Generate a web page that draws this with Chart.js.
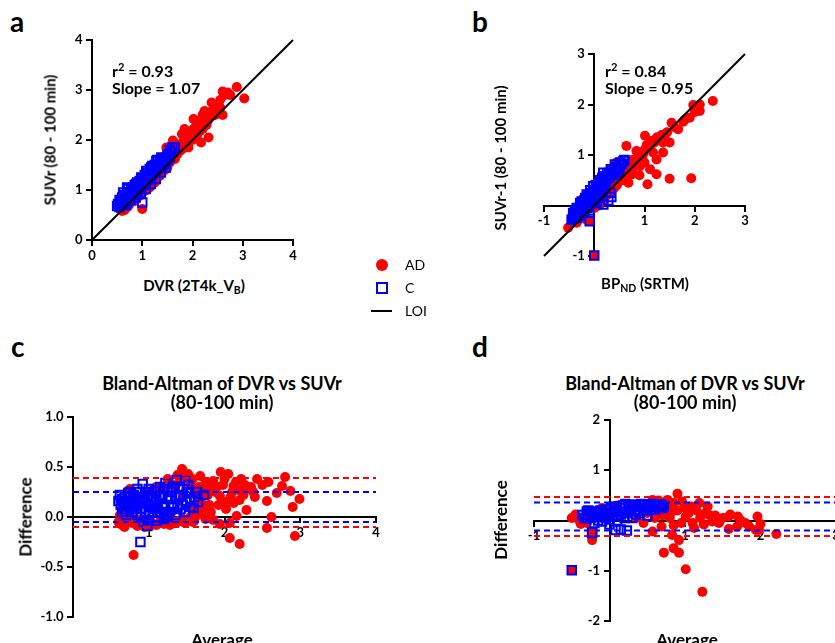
<!DOCTYPE html>
<html>
<head>
<meta charset="utf-8">
<script src="https://cdn.jsdelivr.net/npm/chart.js@4.4.1/dist/chart.umd.min.js"></script>
<style>
  body { margin: 0; width: 835px; height: 643px; overflow: hidden; background: #fff; position: relative; font-family: Lato, sans-serif; color: #000; }
  .box { position: absolute; }
  .t { position: absolute; white-space: nowrap; line-height: 1; font-weight: bold; }
  .c { transform: translate(-50%, -50%); }
  .r { transform: translate(-50%, -50%) rotate(-90deg); }
  .lg { position: absolute; white-space: nowrap; line-height: 1; font-size: 14px; transform: translateY(-50%); }
  sub { font-size: 70%; vertical-align: -0.25em; }
  sup { font-size: 70%; vertical-align: 0.55em; }
</style>
</head>
<body>

<div class="t" style="left:10px;top:7px;font-size:28px">a</div>
<div class="t" style="left:472px;top:7px;font-size:28px">b</div>
<div class="t" style="left:11px;top:332px;font-size:28px">c</div>
<div class="t" style="left:472px;top:332px;font-size:28px">d</div>

<div class="box" style="left:0;top:0;width:320px;height:260px"><canvas id="chartA"></canvas></div>
<div class="box" style="left:470px;top:0;width:300px;height:280px"><canvas id="chartB"></canvas></div>
<div class="box" style="left:0;top:400px;width:400px;height:243px"><canvas id="chartC"></canvas></div>
<div class="box" style="left:420px;top:400px;width:450px;height:243px"><canvas id="chartD"></canvas></div>

<div class="t" style="left:112px;top:61px;font-size:16px">r<sup>2</sup> = 0.93</div>
<div class="t" style="left:112px;top:80px;font-size:16px">Slope = 1.07</div>
<div class="t r" style="left:50px;top:140px;font-size:15px">SUVr (80 - 100 min)</div>
<div class="t c" style="left:194px;top:287px;font-size:15px">DVR (2T4k_V<sub>B</sub>)</div>

<div class="t" style="left:605px;top:61px;font-size:16px">r<sup>2</sup> = 0.84</div>
<div class="t" style="left:605px;top:80px;font-size:16px">Slope = 0.95</div>
<div class="t r" style="left:500px;top:158px;font-size:15px">SUVr-1 (80 - 100 min)</div>
<div class="t c" style="left:645px;top:285px;font-size:15px">BP<sub>ND</sub> (SRTM)</div>

<div style="position:absolute;left:376px;top:259px;width:12px;height:12px;border-radius:50%;background:#f00"></div>
<div class="lg" style="left:405px;top:265px">AD</div>
<div style="position:absolute;left:376px;top:282px;width:8px;height:8px;border:2px solid #00f"></div>
<div class="lg" style="left:405px;top:288px">C</div>
<div style="position:absolute;left:371px;top:310px;width:21px;height:2px;background:#000"></div>
<div class="lg" style="left:405px;top:311px">LOI</div>

<div class="t c" style="left:222px;top:383px;font-size:18px">Bland-Altman of DVR vs SUVr</div>
<div class="t c" style="left:222px;top:402px;font-size:18px">(80-100 min)</div>
<div class="t r" style="left:25px;top:517px;font-size:17px">Difference</div>
<div class="t c" style="left:222px;top:639px;font-size:17px">Average</div>

<div class="t c" style="left:685px;top:383px;font-size:18px">Bland-Altman of DVR vs SUVr</div>
<div class="t c" style="left:685px;top:402px;font-size:18px">(80-100 min)</div>
<div class="t r" style="left:500px;top:520px;font-size:17px">Difference</div>
<div class="t c" style="left:687px;top:639px;font-size:17px">Average</div>

<script>
// ---- panel a : SUVr vs DVR ----
const adA = [[0.55,0.62],[0.6,0.58],[0.65,0.6],[0.7,0.66],[0.75,0.72],[0.62,0.7],[0.8,0.8],[0.85,0.78],[0.9,0.88],[0.95,0.92],
  [1.0,0.62],[0.98,1.0],[1.05,1.05],[1.1,1.08],[1.15,1.1],[1.2,1.18],[1.25,1.22],[1.3,1.3],[1.35,1.35],[1.4,1.38],
  [1.45,1.45],[1.5,1.52],[1.5,1.6],[1.55,1.65],[1.6,1.62],[1.65,1.75],[1.7,1.8],[1.75,1.78],[1.8,1.95],[1.85,1.9],
  [1.9,2.05],[1.95,2.0],[2.0,2.1],[2.0,2.2],[2.05,2.25],[2.1,2.3],[2.15,2.18],[2.2,2.35],[2.25,2.42],[2.3,2.45],
  [2.1,2.38],[1.95,2.15],[1.85,2.05],[1.78,1.92],[1.7,1.72],[1.62,1.68],[2.35,2.55],[2.4,2.6],[2.45,2.5],[2.38,2.75],
  [2.5,2.7],[2.55,2.65],[2.6,2.5],[2.6,2.97],[2.65,2.9],[2.7,2.95],[2.75,2.9],[2.88,3.06],[3.03,2.83],[2.32,2.05],
  [2.17,1.95],[2.24,2.58],[2.02,2.42],[1.84,2.22],[1.79,2.12],[1.61,1.99],[1.48,1.85],[1.45,1.58],[1.25,1.42],[1.1,1.25],
  [0.9,1.0],[0.75,0.85],[1.3,1.5],[1.4,1.62],[1.2,1.35],[1.0,1.12],[0.8,0.92],[0.7,0.78],[1.55,1.75],[1.68,1.9],
  [2.2,2.5],[2.28,2.3],[1.92,1.85],[2.08,2.05],[1.55,1.55],[1.6,1.7],[1.65,1.62],[1.7,1.85],[1.75,1.88],[1.8,1.82],
  [1.85,1.98],[1.9,1.92],[1.95,2.08],[2.0,2.0],[2.05,2.15],[2.1,2.12],[2.15,2.28],[2.2,2.22],[2.25,2.3],[2.3,2.38],
  [2.35,2.45],[2.45,2.62],[2.5,2.58],[2.55,2.8],[1.05,0.98],[1.15,1.05],[1.25,1.15],[1.35,1.28],[1.45,1.4],[0.85,0.82],
  [0.95,0.88],[0.72,0.68],[0.58,0.65],[1.5,1.45]];
const cA = [[0.5,0.68],[0.52,0.72],[0.55,0.66],[0.58,0.78],[0.6,0.85],[0.62,0.72],[0.65,0.9],[0.68,0.82],[0.7,1.05],[0.72,0.95],
  [0.75,0.88],[0.78,1.0],[0.8,0.92],[0.82,1.05],[0.85,1.1],[0.88,0.98],[0.9,1.15],[0.92,1.05],[0.95,1.18],[0.98,1.1],
  [1.0,0.75],[1.0,1.22],[1.02,1.15],[1.05,1.3],[1.08,1.2],[1.1,1.35],[1.12,1.28],[1.15,1.42],[1.18,1.32],[1.2,1.48],
  [1.22,1.4],[1.25,1.5],[1.28,1.45],[1.3,1.6],[1.32,1.52],[1.35,1.58],[1.38,1.5],[1.4,1.62],[1.42,1.55],[1.45,1.6],
  [1.5,1.7],[1.55,1.8],[1.6,1.85],[1.65,1.85],[0.9,0.95],[0.7,0.75],[1.15,1.25],[0.85,0.9],[0.6,0.7],[1.05,1.1],
  [0.55,0.8],[0.6,0.78],[0.65,0.75],[0.7,0.88],[0.75,0.95],[0.8,1.0],[0.85,0.98],[0.9,1.05],[0.95,1.05],[1.0,1.1],
  [1.05,1.18],[1.1,1.2],[1.15,1.32],[1.2,1.3],[1.25,1.38],[1.3,1.42],[1.35,1.45],[1.4,1.5],[1.45,1.52],[1.5,1.6],
  [1.55,1.65],[0.62,0.95],[0.72,1.02],[0.88,1.12],[0.98,1.25],[1.08,1.38],[1.18,1.45],[1.28,1.58],[1.38,1.65],[1.48,1.65],
  [1.58,1.75],[0.67,0.7],[0.77,0.8],[0.87,0.85],[0.97,0.95],[1.07,1.02],[1.17,1.12],[1.27,1.22],[1.37,1.35],[1.47,1.45]];
const loiA = [[0,0],[4,4]];

// ---- panel b : SUVr-1 vs BPnd ----
const adB = [[-0.52,-0.44],[-0.35,-0.34],[-0.15,-0.28],[-0.4,-0.3],[-0.3,-0.2],[-0.2,-0.05],[-0.1,0.05],[0.0,0.15],[0.05,0.3],[0.1,0.25],
  [0.15,0.4],[0.2,0.3],[0.25,0.45],[0.3,0.5],[0.35,0.55],[0.4,0.5],[0.45,0.62],[0.5,0.7],[0.55,0.6],[0.6,0.72],
  [0.65,0.8],[0.7,0.75],[0.75,0.9],[0.8,0.85],[0.85,0.95],[0.9,1.05],[0.95,0.95],[1.0,1.1],[1.05,1.2],[1.1,1.15],
  [1.15,1.28],[1.2,1.25],[1.25,1.35],[1.3,1.3],[1.35,1.4],[1.4,1.35],[1.45,1.45],[2.36,2.07],[2.1,2.0],[1.97,1.99],
  [2.1,1.87],[1.9,1.74],[1.77,1.66],[1.54,1.64],[1.67,1.51],[1.34,1.38],[1.24,1.31],[1.01,1.38],[0.64,1.18],[1.04,1.18],
  [1.17,1.05],[0.97,1.01],[0.84,0.91],[1.11,0.72],[1.24,0.62],[1.5,0.53],[1.93,0.54],[1.06,0.42],[0.76,0.62],[0.68,0.45],
  [0.48,0.65],[0.44,0.85],[0.71,0.78],[1.24,0.91],[1.37,1.05],[1.5,1.25],[1.37,1.25],[0.91,0.78],[0.54,0.78],[0.84,1.08],
  [1.6,1.55],[1.8,1.7],[2.0,1.85],[0.3,0.25],[0.2,0.1],[0.1,0.0],[0.6,0.5],[0.9,0.6],[1.0,0.85],[-0.45,-0.35],
  [-0.25,-0.25],[0.0,-0.05],[0.15,0.1],[0.25,0.2],[0.35,0.3],[0.45,0.4],[0.55,0.5],[0.65,0.62],[0.75,0.7],[0.4,0.35],
  [0.5,0.55],[0.6,0.6],[0.7,0.65]];
const cB = [[0.58,0.88],[0.41,0.81],[0.18,0.65],[0.08,0.45],[-0.15,0.22],[-0.28,0.05],[-0.42,-0.25],[-0.19,-0.21],[-0.35,-0.15],[0.34,0.17],
  [0.18,0.02],[-0.02,0.38],[0.15,0.32],[0.25,0.52],[0.44,0.65],[-0.09,0.12],[-0.4,-0.2],[-0.38,-0.1],[-0.3,-0.05],[-0.25,0.0],
  [-0.2,0.1],[-0.15,0.05],[-0.1,0.2],[-0.05,0.25],[0.0,0.3],[0.05,0.35],[0.1,0.4],[0.12,0.5],[0.2,0.45],[0.22,0.55],
  [0.28,0.6],[0.3,0.65],[0.35,0.7],[0.38,0.62],[0.45,0.75],[0.5,0.8],[0.52,0.85],[-0.3,-0.15],[-0.22,-0.08],[-0.12,0.0],
  [0.02,0.1],[0.28,0.1],[0.32,0.25],[0.1,0.15],[-0.05,0.05],[-0.35,-0.25],[0.6,0.9],[-0.45,-0.28],[-0.42,-0.15],[-0.38,-0.22],
  [-0.35,-0.05],[-0.32,-0.12],[-0.28,-0.1],[-0.25,0.08],[-0.22,0.02],[-0.18,0.15],[-0.15,-0.05],[-0.12,0.18],[-0.08,0.3],[-0.05,0.15],
  [0.0,0.22],[0.03,0.4],[0.06,0.2],[0.1,0.3],[0.13,0.45],[0.16,0.55],[0.2,0.38],[0.23,0.48],[0.26,0.62],[0.3,0.55],
  [0.33,0.72],[0.36,0.6],[0.4,0.7],[0.42,0.76],[0.47,0.7],[0.5,0.72],[0.55,0.82],[0.2,0.58],[0.05,0.05],[-0.1,-0.1],
  [-0.28,-0.2]];
const oddB = [[0,-0.99],[-0.09,-0.31]];
const loiB = [[-1,-1],[3,3]];

// ---- panel c : Bland-Altman DVR vs SUVr ----
const adC = [[0.6,-0.05],[0.65,-0.08],[0.68,-0.1],[0.72,-0.04],[0.75,0.02],[0.8,-0.38],[0.85,-0.09],[0.9,-0.06],[0.95,-0.1],[1.0,-0.05],
  [1.05,-0.07],[1.1,-0.08],[1.15,-0.04],[1.2,-0.07],[1.25,-0.05],[1.3,-0.03],[1.35,-0.06],[1.4,-0.04],[1.45,-0.02],[1.5,-0.03],
  [1.55,0.0],[1.6,-0.04],[1.65,0.02],[1.7,0.05],[1.75,-0.02],[0.7,0.1],[0.8,0.2],[0.9,0.15],[1.0,0.25],[1.1,0.3],
  [1.2,0.28],[1.3,0.32],[1.4,0.35],[1.25,0.38],[1.35,0.3],[1.44,0.48],[1.5,0.38],[1.55,0.32],[1.6,0.28],[1.68,0.41],
  [1.72,0.27],[1.75,0.35],[1.8,0.12],[1.85,0.36],[1.85,-0.03],[1.9,0.3],[1.94,0.21],[1.95,0.45],[2.0,0.38],[2.05,0.43],
  [2.07,-0.06],[1.94,-0.07],[2.07,-0.21],[2.1,0.25],[2.12,0.31],[2.12,0.14],[2.16,0.01],[2.2,0.17],[2.2,-0.27],[2.25,0.22],
  [2.27,0.32],[2.29,0.07],[2.3,0.28],[2.38,0.25],[2.43,0.38],[2.5,0.32],[2.56,0.16],[2.56,-0.11],[2.58,0.35],[2.62,0.0],
  [2.69,0.24],[2.76,0.31],[2.8,0.4],[2.87,0.26],[2.9,0.1],[2.93,-0.19],[2.99,0.18],[1.65,0.15],[1.7,0.2],[1.78,0.22],
  [1.6,0.1],[2.0,0.15],[2.15,0.35],[0.75,0.28],[1.05,0.12],[1.45,0.2],[1.3,0.05],[0.62,0.02],[0.65,0.12],[0.7,-0.02],
  [0.78,-0.06],[0.88,-0.03],[1.02,-0.09],[1.18,-0.06],[1.28,-0.08],[1.38,-0.05],[1.48,-0.06],[1.58,-0.05],[1.62,0.22],[1.66,0.3],
  [1.72,0.12],[1.8,0.3],[1.82,0.05],[1.88,0.25],[1.92,0.12],[1.98,0.32],[2.02,0.08],[2.08,0.2],[2.18,0.27],[2.22,0.38],
  [2.35,0.3],[2.4,0.2],[1.46,0.4],[1.52,0.43],[1.38,0.42],[1.58,0.38],[1.74,0.1]];
const cC = [[0.6,0.16],[0.63,0.12],[0.65,0.18],[0.68,0.08],[0.7,0.14],[0.73,0.24],[0.75,0.2],[0.78,0.05],[0.8,0.22],[0.82,0.12],
  [0.85,0.02],[0.88,0.18],[0.89,-0.25],[0.9,0.08],[0.92,0.33],[0.95,0.25],[0.98,-0.09],[1.0,0.12],[1.02,0.2],[1.05,0.05],
  [1.08,0.26],[1.1,0.15],[1.12,0.0],[1.15,0.22],[1.18,0.1],[1.2,0.28],[1.22,0.34],[1.25,0.18],[1.28,0.05],[1.3,0.25],
  [1.33,0.12],[1.37,0.37],[1.4,0.2],[1.42,0.08],[1.45,0.28],[1.48,0.36],[1.5,0.15],[1.55,0.1],[1.59,0.09],[1.64,0.25],
  [1.73,0.22],[1.0,0.02],[0.85,0.28],[1.15,0.3],[0.95,0.15],[1.25,0.0],[1.35,0.02],[0.75,0.1],[0.62,0.22],[0.65,0.05],
  [0.68,0.2],[0.7,0.02],[0.72,0.12],[0.75,0.25],[0.78,0.15],[0.8,0.08],[0.82,0.2],[0.85,0.12],[0.88,0.25],[0.9,0.0],
  [0.92,0.15],[0.95,0.05],[0.98,0.22],[1.0,0.28],[1.02,0.1],[1.05,0.18],[1.08,0.08],[1.1,0.25],[1.12,0.12],[1.15,0.05],
  [1.18,0.2],[1.2,0.12],[1.22,0.02],[1.25,0.28],[1.28,0.18],[1.3,0.1],[1.32,0.3],[1.35,0.2],[1.38,0.1],[1.4,0.3],
  [1.42,0.22],[1.45,0.12],[1.48,0.05],[1.5,0.25],[1.52,0.32],[1.55,0.18],[1.6,0.2],[1.65,0.15],[1.0,-0.03],[1.1,-0.04],
  [1.2,-0.02],[0.93,-0.05]];
const limitsAdC = [0.39, -0.10];   // red dashed limits of agreement
const limitsCC = [0.25, -0.05];    // blue dashed limits
const rangeC = [0, 4];

// ---- panel d : Bland-Altman BPnd vs SUVr-1 ----
const adD = [[-0.5,0.05],[-0.38,-0.07],[-0.23,-0.39],[-0.3,0.1],[-0.2,0.05],[-0.1,0.12],[0.0,0.1],[0.1,0.15],[0.2,0.2],[0.3,0.22],
  [0.4,0.25],[0.5,0.3],[0.55,0.35],[0.6,0.28],[0.65,0.4],[0.7,0.3],[0.75,0.25],[0.9,0.53],[0.96,0.38],[1.19,0.35],
  [1.08,0.28],[1.27,0.15],[1.36,-0.02],[1.58,0.08],[1.74,0.0],[1.96,0.08],[2.0,-0.07],[2.21,-0.27],[1.94,-0.19],[1.58,-0.17],
  [0.72,-0.64],[0.85,-0.55],[0.92,-0.64],[0.92,-0.39],[0.83,-0.29],[1.01,-0.97],[1.23,-1.42],[1.12,-0.15],[0.69,-0.12],[0.57,-0.22],
  [0.77,0.41],[0.57,0.41],[0.83,0.18],[1.01,0.08],[1.32,0.11],[1.45,-0.05],[1.69,-0.12],[1.98,-0.19],[1.85,-0.12],[0.8,0.05],
  [0.9,0.2],[1.0,0.25],[1.05,0.15],[1.15,0.2],[1.2,0.05],[1.3,0.28],[1.4,0.1],[1.5,0.05],[1.6,0.12],[1.7,0.08],
  [1.8,-0.05],[0.85,-0.1],[0.95,-0.05],[0.7,0.1],[0.6,0.15],[0.45,-0.05],[0.35,0.05],[1.1,-0.05],[1.25,-0.08],[0.3,0.3],
  [0.1,0.3],[-0.1,0.25],[-0.45,0.12],[-0.4,0.0],[0.65,0.2],[0.7,0.35],[0.8,0.3],[0.75,0.12],[0.85,0.35],[0.6,0.05],
  [0.5,0.15],[-0.3,-0.05]];
const cD = [[-0.36,0.11],[-0.3,0.05],[-0.25,0.15],[-0.2,0.08],[-0.15,0.0],[-0.1,0.12],[-0.05,0.05],[0.0,0.15],[0.05,0.1],[0.1,0.2],
  [0.15,0.12],[0.2,0.25],[0.21,0.33],[0.25,0.18],[0.3,0.28],[0.35,0.2],[0.4,0.3],[0.45,0.25],[0.5,0.32],[0.55,0.28],
  [0.57,0.33],[0.6,0.22],[0.65,0.3],[0.72,0.28],[-0.23,-0.25],[0.08,-0.19],[0.23,-0.2],[0.15,-0.18],[-0.2,-0.05],[0.0,-0.08],
  [0.1,0.0],[0.3,0.05],[-0.3,0.18],[0.4,0.15],[0.5,0.1],[-0.33,0.05],[-0.3,0.12],[-0.28,0.2],[-0.25,0.05],[-0.22,0.12],
  [-0.18,0.18],[-0.15,0.1],[-0.12,0.2],[-0.08,0.15],[-0.05,0.22],[-0.02,0.1],[0.02,0.25],[0.05,0.18],[0.08,0.28],[0.12,0.1],
  [0.15,0.25],[0.18,0.3],[0.22,0.15],[0.25,0.3],[0.28,0.2],[0.32,0.32],[0.35,0.28],[0.38,0.22],[0.42,0.33],[0.45,0.3],
  [0.48,0.2],[0.52,0.3],[0.55,0.22],[0.6,0.32],[0.62,0.28],[0.68,0.32],[0.7,0.25],[0.0,0.02],[0.2,0.05],[0.35,0.12],
  [-0.1,-0.02]];
const oddD = [[-0.5,-0.99],[-0.23,-0.24]];
const limitsAdD = [0.47, -0.31];
const limitsCD = [0.36, -0.20];
const rangeD = [-1, 3];

const RED = '#ff0000';
const BLUE = '#0000ff';

function redSet(pts) {
    return { data: pts, pointStyle: 'circle', pointRadius: 5, backgroundColor: RED, borderWidth: 0, order: 3, clip: false };
}
function blueSet(pts) {
    return { data: pts, pointStyle: 'rect', pointRadius: 6, backgroundColor: 'rgba(0,0,0,0)', borderColor: BLUE, borderWidth: 2, order: 2, clip: false };
}
function oddSet(pts) {
    return { data: pts, pointStyle: 'rect', pointRadius: 6, backgroundColor: RED, borderColor: BLUE, borderWidth: 2, order: 0, clip: false };
}
function lineSet(pts, color, dash) {
    return { data: pts, showLine: true, pointRadius: 0, borderColor: color, borderWidth: 2, borderDash: dash || [], order: 1, clip: false };
}
function hline(v, range, color) {
    return lineSet([[range[0], v], [range[1], v]], color, [6, 4]);
}

function axis(min, max, step, pos, fmt) {
    return {
        type: 'linear', min: min, max: max, position: pos,
        grid: { display: true, drawOnChartArea: false, drawTicks: true, tickLength: 5, color: '#000', lineWidth: 2 },
        border: { display: true, color: '#000', width: 2 },
        ticks: { stepSize: step, color: '#000', padding: 3, font: { family: 'Lato', size: 13, weight: 'bold' }, callback: fmt }
    };
}
// y labels sit right on the crossing axis, so pad them with trailing spaces
const gap = '   ';
const plain = v => String(v);
const noZero = v => v === 0 ? '' : String(v);
const plainY = v => String(v) + gap;
const noZeroY = v => v === 0 ? '' : String(v) + gap;
const oneDecY = v => v.toFixed(1) + gap;

function makeChart(id, datasets, xAx, yAx, pad) {
    return new Chart(document.getElementById(id), {
        type: 'scatter',
        data: { datasets: datasets },
        options: {
            responsive: true,
            maintainAspectRatio: false,
            animation: false,
            layout: { padding: pad },
            plugins: { legend: { display: false }, tooltip: { enabled: false } },
            scales: { x: xAx, y: yAx }
        }
    });
}

makeChart('chartA',
    [redSet(adA), blueSet(cA), lineSet(loiA, '#000')],
    axis(0, 4, 1, { y: 0 }, plain), axis(0, 4, 1, { x: 0 }, plainY),
    { left: 92, right: 27, top: 40, bottom: 20 });

makeChart('chartB',
    [redSet(adB), blueSet(cB), oddSet(oddB), lineSet(loiB, '#000')],
    axis(-1, 3, 1, { y: 0 }, noZero), axis(-1, 3, 1, { x: 0 }, noZeroY),
    { left: 74, right: 25, top: 54, bottom: 24 });

makeChart('chartC',
    [redSet(adC), blueSet(cC),
     hline(limitsAdC[0], rangeC, RED), hline(limitsAdC[1], rangeC, RED),
     hline(limitsCC[0], rangeC, BLUE), hline(limitsCC[1], rangeC, BLUE)],
    axis(0, 4, 1, { y: 0 }, noZero), axis(-1, 1, 0.5, { x: 0 }, oneDecY),
    { left: 73, right: 24, top: 17, bottom: 26 });

makeChart('chartD',
    [redSet(adD), blueSet(cD), oddSet(oddD),
     hline(limitsAdD[0], rangeD, RED), hline(limitsAdD[1], rangeD, RED),
     hline(limitsCD[0], rangeD, BLUE), hline(limitsCD[1], rangeD, BLUE)],
    axis(-1, 3, 1, { y: 0 }, noZero), axis(-2, 2, 1, { x: 0 }, noZeroY),
    { left: 114, right: 34, top: 20, bottom: 22 });
</script>
</body>
</html>
